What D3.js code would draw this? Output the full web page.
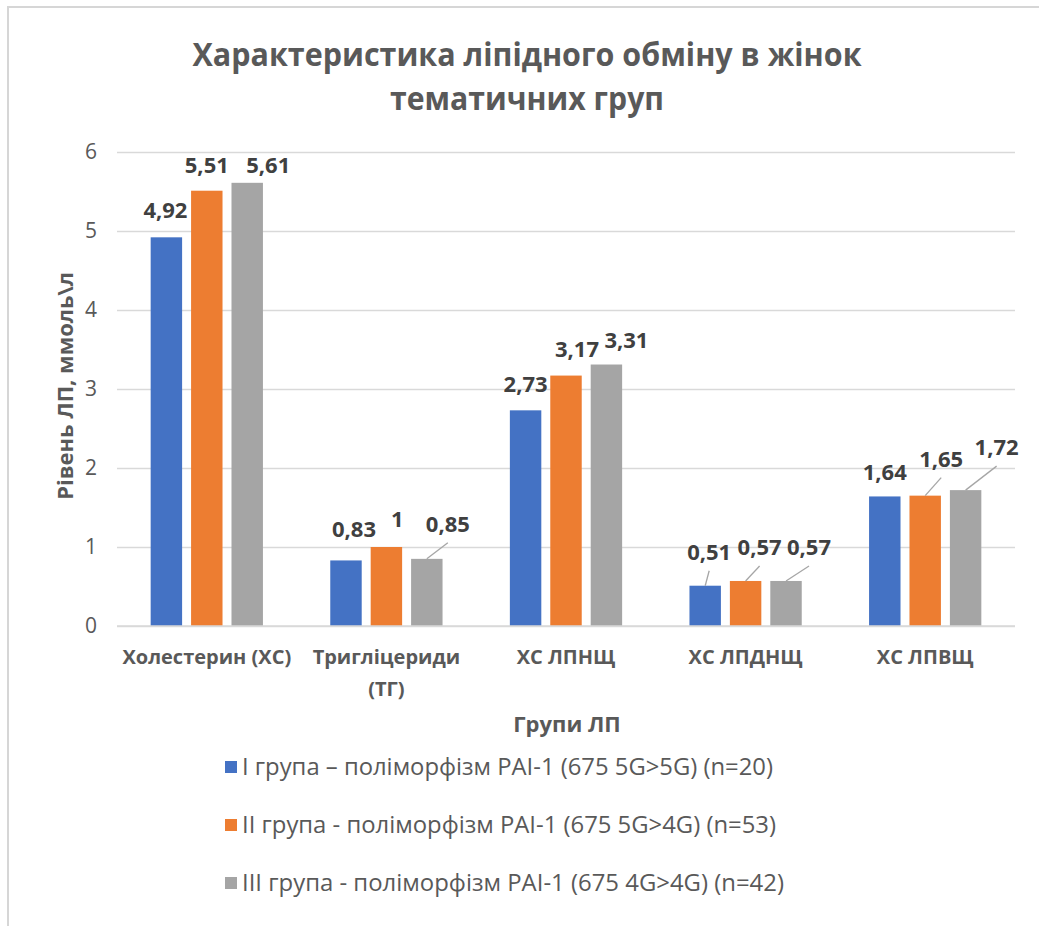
<!DOCTYPE html>
<html>
<head>
<meta charset="utf-8">
<script src="https://cdn.jsdelivr.net/npm/d3@7"></script>
<style>
  html, body { margin: 0; padding: 0; background: #ffffff; }
  svg { display: block; font-family: "Open Sans", "Noto Sans", sans-serif; }
</style>
</head>
<body>
<svg id="chart" width="1039" height="926"></svg>
<script>
// Lipid profile by PAI-1 polymorphism group (mmol/l)
const titleLines = ["Характеристика ліпідного обміну в жінок", "тематичних груп"];
const categories = ["Холестерин (ХС)", "Тригліцериди\n(ТГ)", "ХС ЛПНЩ", "ХС ЛПДНЩ", "ХС ЛПВЩ"];
const seriesNames = [
  "I група – поліморфізм PAI-1 (675 5G>5G) (n=20)",
  "II група - поліморфізм PAI-1 (675 5G>4G) (n=53)",
  "III група - поліморфізм PAI-1 (675 4G>4G) (n=42)"
];
const group1 = [4.92, 0.83, 2.73, 0.51, 1.64];
const group2 = [5.51, 1.00, 3.17, 0.57, 1.65];
const group3 = [5.61, 0.85, 3.31, 0.57, 1.72];
const yTicks = [0, 1, 2, 3, 4, 5, 6];
const yTitle = "Рівень ЛП, ммоль\\л";
const xTitle = "Групи ЛП";

const seriesColors = ["#4472c4", "#ed7d31", "#a5a5a5"];

// Hand-placed data-label nudges: [dx from bar centre, baseline offset from bar top, leader line]
const labelPlacement = [
  [[-1, -19, false], [8, -23, false], [0, -18, false], [4, -26, true], [0, -16, false]],
  [[0, -18, false], [11, -20, false], [11, -19, false], [14, -26, true], [16, -29, true]],
  [[21, -10, false], [21, -27, true], [20, -17, false], [23, -26, true], [31, -35, true]]
];

const seriesValues = [group1, group2, group3];
const svg = d3.select("#chart");

// chart area frame
svg.append("rect")
  .attr("x", 8).attr("y", 7).attr("width", 1040).attr("height", 930)
  .attr("fill", "#ffffff").attr("stroke", "#d6d6d6").attr("stroke-width", 2);

// title
const titleG = svg.append("g").attr("fill", "#595959")
  .attr("font-weight", "bold").attr("font-size", 32);
const titleWidths = [669, 274];
const titleBaselines = [66, 110];
titleLines.forEach((t, i) => {
  titleG.append("text")
    .attr("x", 527).attr("y", titleBaselines[i])
    .attr("text-anchor", "middle")
    .attr("textLength", titleWidths[i])
    .attr("lengthAdjust", "spacingAndGlyphs")
    .text(t);
});

// scales
const y = d3.scaleLinear().domain([0, 6]).range([626, 152]);
const x0 = d3.scaleBand().domain(categories).range([117, 1015]);
const x1 = d3.scaleBand().domain(seriesNames).range([0, x0.bandwidth()])
  .paddingInner(0.222).paddingOuter(0.833);

// y axis + gridlines
const yAxis = svg.append("g")
  .attr("transform", "translate(117,0)")
  .call(d3.axisLeft(y).tickValues(yTicks).tickSize(-(1015 - 117)).tickPadding(20)
    .tickFormat(d3.format("d")));
yAxis.select(".domain").remove();
yAxis.selectAll(".tick line").attr("stroke", "#d9d9d9").attr("stroke-width", 1.4);
yAxis.selectAll(".tick text")
  .attr("fill", "#595959").attr("font-size", 21).attr("font-family", "Open Sans, sans-serif");

// bars
const barsG = svg.append("g");
seriesValues.forEach((vals, s) => {
  barsG.selectAll(null).data(vals).enter().append("rect")
    .attr("x", (d, i) => x0(categories[i]) + x1(seriesNames[s]))
    .attr("y", d => y(d))
    .attr("width", x1.bandwidth())
    .attr("height", d => y(0) - y(d))
    .attr("fill", seriesColors[s]);
});

// baseline
svg.append("line")
  .attr("x1", 117).attr("x2", 1015).attr("y1", y(0)).attr("y2", y(0))
  .attr("stroke", "#d9d9d9").attr("stroke-width", 1.4);

// data labels
const fmt = v => String(v).replace(".", ",");
const labelsG = svg.append("g");
seriesValues.forEach((vals, s) => {
  vals.forEach((v, i) => {
    const cx = x0(categories[i]) + x1(seriesNames[s]) + x1.bandwidth() / 2;
    const top = y(v);
    const [dx, dy, leader] = labelPlacement[s][i];
    const lx = cx + dx, ly = top + dy;
    if (leader) {
      labelsG.append("line")
        .attr("x1", cx).attr("y1", top)
        .attr("x2", lx).attr("y2", ly + 11)
        .attr("stroke", "#a6a6a6").attr("stroke-width", 1.3);
    }
    labelsG.append("text")
      .attr("x", lx).attr("y", ly)
      .attr("text-anchor", "middle")
      .attr("font-size", 22).attr("font-weight", "bold")
      .attr("fill", "#404040")
      .text(fmt(v));
  });
});

// category labels
const catG = svg.append("g").attr("font-size", 20).attr("font-weight", "bold").attr("fill", "#595959");
categories.forEach(c => {
  const lines = c.split("\n");
  const t = catG.append("text").attr("text-anchor", "middle");
  lines.forEach((ln, k) => {
    t.append("tspan")
      .attr("x", x0(c) + x0.bandwidth() / 2)
      .attr("y", 664 + k * 32)
      .text(ln);
  });
});

// axis titles
svg.append("text")
  .attr("x", 567).attr("y", 732)
  .attr("text-anchor", "middle")
  .attr("font-size", 22).attr("font-weight", "bold").attr("fill", "#595959")
  .text(xTitle);

svg.append("text")
  .attr("transform", "translate(73,386) rotate(-90)")
  .attr("text-anchor", "middle")
  .attr("font-size", 22).attr("font-weight", "bold").attr("fill", "#595959")
  .text(yTitle);

// legend
const legendRows = [767, 825, 883];
const legendWidths = [531, 534, 542];
const legG = svg.append("g");
seriesNames.forEach((n, s) => {
  legG.append("rect")
    .attr("x", 225).attr("y", legendRows[s] - 6)
    .attr("width", 12).attr("height", 12)
    .attr("fill", seriesColors[s]);
  legG.append("text")
    .attr("x", 242).attr("y", legendRows[s] + 8)
    .attr("font-size", 23).attr("fill", "#595959")
    .attr("textLength", legendWidths[s])
    .attr("lengthAdjust", "spacingAndGlyphs")
    .text(n);
});
</script>
</body>
</html>
